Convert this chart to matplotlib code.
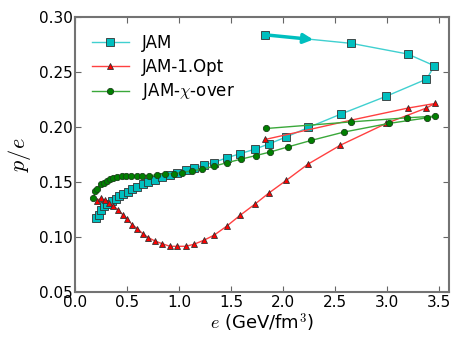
import numpy as np
import matplotlib
matplotlib.use('Agg')
from matplotlib import pyplot as plt

plt.rcParams['mathtext.fontset'] = 'cm'

# JAM (lower branch then back along the upper branch)
jam_e = [0.199, 0.225, 0.244, 0.273, 0.305, 0.35, 0.388, 0.423, 0.462, 0.504,
         0.548, 0.596, 0.654, 0.702, 0.766, 0.834, 0.91, 0.98, 1.062, 1.141,
         1.2375, 1.334, 1.456, 1.587, 1.728, 1.865, 2.033, 2.244, 2.555, 2.99,
         3.382, 3.459, 3.202, 2.658, 1.824]
jam_pe = [0.1176, 0.120, 0.1245, 0.128, 0.1306, 0.133, 0.135, 0.1373, 0.139, 0.1415,
          0.1436, 0.1457, 0.1482, 0.1503, 0.1524, 0.1543, 0.1566, 0.1588, 0.1609, 0.163,
          0.1657, 0.1679, 0.1721, 0.1759, 0.180, 0.1848, 0.1912, 0.1997, 0.2118, 0.2279,
          0.2436, 0.2557, 0.2664, 0.2761, 0.2839]

# JAM-1.Opt
opt_e = [0.205, 0.244, 0.286, 0.324, 0.365, 0.413, 0.455, 0.50, 0.545, 0.596,
         0.648, 0.702, 0.766, 0.831, 0.91, 0.98, 1.062, 1.141, 1.2375, 1.334,
         1.456, 1.587, 1.728, 1.865, 2.033, 2.24, 2.552, 2.994, 3.379, 3.462,
         3.202, 2.658, 1.827]
opt_pe = [0.133, 0.1355, 0.1336, 0.1312, 0.1288, 0.1245, 0.1206, 0.1166, 0.1115, 0.1079,
          0.1033, 0.0997, 0.0966, 0.0943, 0.0918, 0.0918, 0.0918, 0.0936, 0.0973, 0.1018,
          0.110, 0.120, 0.130, 0.1403, 0.1518, 0.1664, 0.1836, 0.2034, 0.2173, 0.2215,
          0.2173, 0.2064, 0.1888]

# JAM-chi-over
chi_e = [0.173, 0.192, 0.212, 0.247, 0.276, 0.308, 0.334, 0.365, 0.404, 0.446,
         0.4875, 0.536, 0.59, 0.644, 0.709, 0.783, 0.865, 0.952, 1.026, 1.122,
         1.221, 1.331, 1.456, 1.593, 1.738, 1.879, 2.048, 2.269, 2.584, 3.02,
         3.39, 3.468, 3.195, 2.658, 1.84]
chi_pe = [0.136, 0.142, 0.1436, 0.1488, 0.1492, 0.1512, 0.1527, 0.1536, 0.1545, 0.1555,
          0.1557, 0.156, 0.156, 0.156, 0.156, 0.1566, 0.1573, 0.1579, 0.1588, 0.1603,
          0.1618, 0.1645, 0.1676, 0.1709, 0.1742, 0.1775, 0.1821, 0.1879, 0.1955, 0.2034,
          0.2085, 0.210, 0.2085, 0.2048, 0.1988]

fig = plt.figure(figsize=(4.63, 3.48), dpi=100)
ax = fig.add_axes([0.163, 0.16, 0.807, 0.791])

ax.plot(jam_e, jam_pe, '-', color='#40d0d0', lw=1, marker='s', ms=5.5,
        mfc='c', mec='#333333', mew=0.6, label='JAM')
ax.plot(opt_e, opt_pe, '-', color='#ff4040', lw=1, marker='^', ms=4.5,
        mfc='r', mec='#333333', mew=0.6, label='JAM-1.Opt')
ax.plot(chi_e, chi_pe, '-', color='#3aa83a', lw=1, marker='o', ms=4.5,
        mfc='g', mec='#1a401a', mew=0.6, label=r'JAM-$\chi$-over')

# direction arrow along the upper JAM branch
t = 0.56
ax.annotate('', xy=(jam_e[-1] + t * (jam_e[-2] - jam_e[-1]),
                    jam_pe[-1] + t * (jam_pe[-2] - jam_pe[-1])),
            xytext=(jam_e[-1], jam_pe[-1]),
            arrowprops=dict(arrowstyle='-|>', color='c', lw=2.5,
                            mutation_scale=14, shrinkA=0, shrinkB=0))

ax.set_xlim(0, 3.6)
ax.set_ylim(0.05, 0.30)
ax.set_xticks(np.arange(0, 3.51, 0.5))
ax.set_yticks(np.arange(0.05, 0.301, 0.05))
ax.xaxis.set_major_formatter(matplotlib.ticker.FormatStrFormatter('%.1f'))
ax.yaxis.set_major_formatter(matplotlib.ticker.FormatStrFormatter('%.2f'))
ax.tick_params(direction='in', top=True, right=True, length=4,
               labelsize=11, color='0.4', pad=2)
for s in ax.spines.values():
    s.set_color('0.45')
    s.set_linewidth(1.5)

ax.set_xlabel(r'$e$ (GeV/fm$^3$)', fontsize=13, labelpad=1)
ax.set_ylabel(r'$p/e$', fontsize=16, labelpad=4)
ax.legend(loc='upper left', frameon=False, fontsize=12, numpoints=1,
          handlelength=2.2, borderaxespad=0.6, labelspacing=0.35)

fig.savefig('out.png', dpi=100)
